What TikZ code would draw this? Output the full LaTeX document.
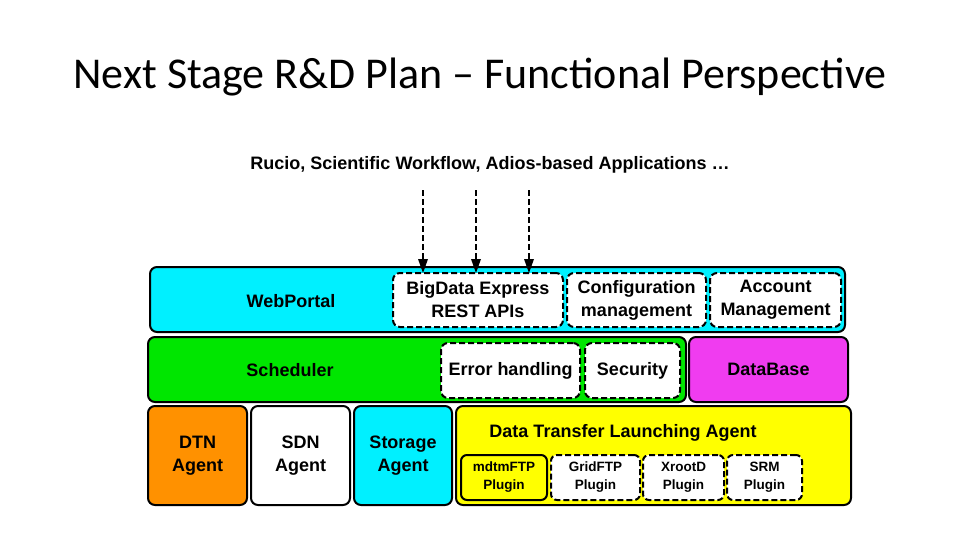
\documentclass[tikz,border=0pt]{standalone}
\usepackage{fontspec}
\setmainfont{Liberation Sans}
\newfontfamily\titlefont{Carlito}
\usetikzlibrary{positioning,arrows.meta}
\definecolor{webcyan}{RGB}{0,240,255}
\definecolor{schedgreen}{RGB}{0,230,0}
\definecolor{dbmagenta}{RGB}{240,60,240}
\definecolor{dtnorange}{RGB}{255,145,0}
\definecolor{agentyellow}{RGB}{255,255,0}
\tikzset{
  layer/.style={draw=black, line width=2pt, rounded corners=7pt, align=center},
  module/.style={layer, fill=white, dash pattern=on 6pt off 3pt},
  plugin/.style={module, rounded corners=6pt},
}
\newcommand{\boxat}[6]{% name, style, x1, y1, x2, y2
  \node[#2, minimum width=#5-#3, minimum height=#6-#4, inner sep=0pt]
    (#1) at ({(#3+#5)/2},{(#4+#6)/2}) {};}
\begin{document}
\begin{tikzpicture}[x=1pt,y=-1pt]
  \useasboundingbox (0,0) rectangle (960,540);
  \node[font=\titlefont\fontsize{44}{48}\selectfont] (title) at (480,77)
    {Next Stage R\&D Plan \textendash{} Functional Perspective};
  \node[font=\bfseries\fontsize{18}{20}\selectfont] (apps) at (490,165)
    {Rucio, Scientific Workflow, Adios-based Applications \dots};

  % upper layers
  \boxat{web}{layer, fill=webcyan}{150}{267}{845}{332}
  \boxat{rest}{module}{393}{273}{563}{327}
  \boxat{conf}{module}{567}{273}{706}{327}
  \boxat{acct}{module}{710}{273}{841}{327}
  \boxat{sched}{layer, fill=schedgreen}{148}{337}{686}{402}
  \boxat{err}{module}{441}{343}{580}{398}
  \boxat{sec}{module}{585}{343}{680}{398}
  \boxat{db}{layer, fill=dbmagenta}{689}{337}{848}{402}

  % agents
  \boxat{dtn}{layer, fill=dtnorange}{148}{406}{247}{505}
  \boxat{sdn}{layer, fill=white}{251}{406}{350}{505}
  \boxat{stor}{layer, fill=webcyan}{354}{406}{452}{505}
  \boxat{dtla}{layer, fill=agentyellow}{456}{406}{851}{505}
  \boxat{mdtm}{layer, rounded corners=6pt, fill=agentyellow}{461}{455}{547}{500}
  \boxat{grid}{plugin}{551}{455}{640}{500}
  \boxat{xroot}{plugin}{643}{455}{724}{500}
  \boxat{srm}{plugin}{727}{455}{802}{500}

  % labels
  \tikzset{every node/.append style={align=center, font=\bfseries\fontsize{18}{23}\selectfont}}
  \node at (291,301) {WebPortal};
  \node at (rest) {BigData Express\\REST APIs};
  \node at (conf) {Configuration\\management};
  \node at (acct) {Account\\Management};
  \node at (290,370) {Scheduler};
  \node at (err) {Error handling};
  \node at (sec) {Security};
  \node at (db) {DataBase};
  \node at (dtn) {DTN\\Agent};
  \node at (sdn) {SDN\\Agent};
  \node at (stor) {Storage\\Agent};
  \node at (623,433) {Data Transfer Launching Agent};
  \tikzset{every node/.append style={font=\bfseries\fontsize{13.5}{18}\selectfont}}
  \node at (mdtm) {mdtmFTP\\Plugin};
  \node at (grid) {GridFTP\\Plugin};
  \node at (xroot) {XrootD\\Plugin};
  \node at (srm) {SRM\\Plugin};

  % requests from applications
  \foreach \xa in {423,476,529}{
    \draw[dash pattern=on 6pt off 3pt, line width=1.6pt] (\xa,190) -- (\xa,262);
    \fill (\xa-5,259) -- (\xa+5,259) -- (\xa,273) -- cycle;
  }
\end{tikzpicture}
\end{document}
